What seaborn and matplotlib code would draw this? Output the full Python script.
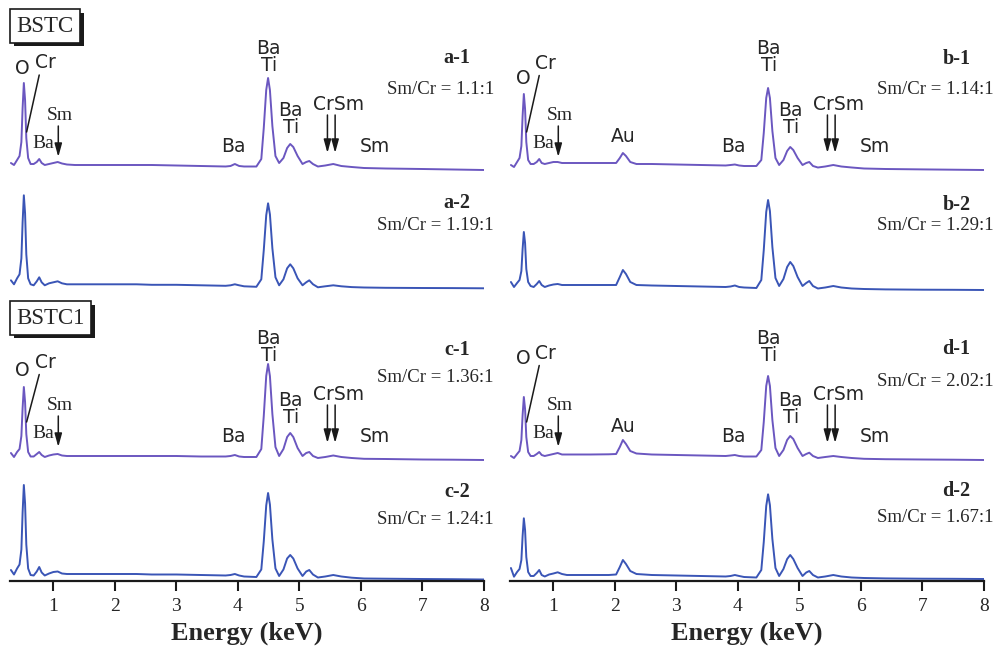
import matplotlib
matplotlib.use('Agg')
import numpy as np
import pandas as pd
import matplotlib.pyplot as plt
import matplotlib.patheffects as pe
import seaborn as sns

# energy grid (keV) shared by all spectra, denser around peaks
ENERGY = [0.31, 0.36, 0.41, 0.45, 0.48, 0.50, 0.52, 0.54, 0.56, 0.59,
          0.63, 0.68, 0.73, 0.77, 0.81, 0.86, 0.93, 1.00, 1.07, 1.14,
          1.22, 1.35, 1.6, 1.9, 2.02, 2.08, 2.13, 2.18, 2.25, 2.35,
          2.6, 3.0, 3.4, 3.8, 3.88, 3.95, 4.02, 4.1, 4.3, 4.38,
          4.42, 4.46, 4.49, 4.52, 4.56, 4.61, 4.67, 4.74, 4.80, 4.85,
          4.90, 4.97, 5.05, 5.11, 5.16, 5.22, 5.30, 5.42, 5.55, 5.68,
          5.85, 6.05, 6.4, 7.0, 7.5, 8.0]

# counts (arb. units)
a1 = [7, 5, 10, 14, 28, 62, 87, 70, 32, 12,
      6, 6, 8, 11, 7, 5, 6, 7, 8, 6.5,
      5.5, 5, 5, 5, 5, 5, 5, 5, 5, 5,
      5, 4.5, 4, 3.5, 4, 6, 4, 3.5, 3.5, 11,
      42, 80, 92, 80, 44, 14, 7, 12, 22, 26,
      23, 14, 6, 8, 9, 6, 3.5, 4.5, 6, 4,
      3, 2, 1.5, 1, 0.5, 0]
a2 = [8, 4, 10, 14, 30, 66, 93, 75, 34, 10,
      4, 3, 7, 11, 6, 3, 5, 6, 7, 5,
      4, 4, 4, 4, 4, 4, 4, 4, 4, 4,
      3.5, 3.5, 3, 2.5, 3, 4, 3, 2, 1.5, 9,
      38, 73, 85, 74, 40, 11, 3, 9, 20, 24,
      20, 10, 3, 6, 8, 4, 1, 2, 3, 2,
      1.2, 0.8, 0.5, 0.3, 0.2, 0]
c1 = [7, 3, 8, 11, 24, 52, 73, 58, 26, 8,
      3.5, 3.5, 6, 8, 5, 3, 4.5, 5.5, 6, 4.5,
      4, 4, 4, 4, 4, 4, 4, 4, 4, 4,
      4, 4, 3.5, 3.5, 4, 5, 3.5, 3, 3, 11,
      44, 84, 96, 84, 46, 13, 4, 11, 23, 27,
      23, 12, 4, 7, 8, 4, 2, 3, 4.5, 3,
      2, 1.2, 1, 0.5, 0.3, 0]
c2 = [9.5, 5, 11, 15, 30, 67, 94.5, 76, 35, 11,
      4.5, 4, 8, 12.5, 7, 4, 6, 7.5, 8, 6,
      5.5, 5.5, 5.5, 5.5, 5.5, 5.5, 5.5, 5.5, 5.5, 5.5,
      5, 5, 4.5, 4, 4.5, 5.5, 4, 3, 2.5, 10,
      38, 74, 86.5, 75, 40, 11, 3.5, 10, 21, 24.5,
      21, 11, 3.5, 8, 9.5, 5, 2, 3, 4.5, 3,
      1.8, 1, 0.8, 0.5, 0.3, 0]
b1 = [5, 3, 8, 12, 24, 54, 76, 61, 28, 10,
      6, 6, 8, 11, 7, 6, 7, 8, 8, 7,
      7, 7, 7, 7, 7, 12, 17, 14, 8, 6,
      6, 5.5, 5, 4.5, 5, 5.5, 4.5, 4, 4, 10,
      37, 72, 82, 72, 39, 12, 5, 10, 19, 23,
      20, 12, 5, 7, 8, 4, 2.5, 3.5, 5, 3.5,
      2.5, 1.5, 1, 0.6, 0.3, 0]
b2 = [8, 3, 7, 10, 19, 41, 58, 47, 21, 8,
      4, 3, 6, 9, 5, 3, 4.5, 5.5, 6, 5,
      5, 5, 5, 5, 5, 13, 20, 16, 8, 5,
      4.5, 4, 3.5, 3, 3.5, 4.5, 3, 2.5, 2, 10,
      40, 78, 90, 79, 43, 12, 4, 11, 23, 28,
      24, 13, 4, 7, 9, 4, 1.5, 2.5, 4, 2.5,
      1.5, 1, 0.6, 0.3, 0.2, 0]
d1 = [4, 2, 6, 9, 20, 45, 63, 51, 23, 8,
      4, 4, 6, 8, 5, 4, 5, 6, 7, 5.5,
      5.5, 5.5, 5.5, 5.7, 6, 13, 20, 16, 9, 6.5,
      5.5, 5, 4.5, 4, 4.5, 5, 4, 3.5, 3.5, 10,
      38, 74, 84, 74, 40, 12, 4, 10, 20, 24,
      21, 12, 4, 6, 7.3, 4, 2, 3, 4, 3,
      2, 1.2, 0.8, 0.5, 0.3, 0]
d2 = [11, 2.3, 7, 10, 19, 43, 60.7, 49, 22, 7,
      3, 3, 6, 9, 4, 2.5, 4.5, 5.5, 6.7, 5,
      4, 4, 4, 4, 4.5, 12, 19, 15, 8, 5,
      4, 3.5, 3, 2.5, 3, 4, 3, 2, 1.5, 9,
      37, 73, 84.7, 74, 40, 11, 3, 10, 20, 24,
      20, 11, 3, 6.5, 8, 4, 1.5, 2.5, 4, 2.5,
      1.5, 1, 0.6, 0.3, 0.2, 0]

PANELS_LEFT = ['a-1', 'a-2', 'c-1', 'c-2']
PANELS_RIGHT = ['b-1', 'b-2', 'd-1', 'd-2']
RATIOS_LEFT = ['1.1:1', '1.19:1', '1.36:1', '1.24:1']
RATIOS_RIGHT = ['1.14:1', '1.29:1', '2.02:1', '1.67:1']
GROUPS = ['BSTC', 'BSTC1']
TICKS = [1, 2, 3, 4, 5, 6, 7, 8]

# layout (vertical stacking offsets, label heights)
OFFSETS_LEFT = [411, 292.7, 121, 1.5]
OFFSETS_RIGHT = [411, 291, 121, 2]
LABEL_Y_LEFT = [523, 378, 231, 89]
LABEL_Y_RIGHT = [522.5, 376, 232, 90]
RATIO_Y_LEFT = [492, 355, 203, 62]
RATIO_Y_RIGHT = [492, 355, 200, 63]

PURPLE = '#6b57c0'
BLUE = '#3a55b6'
SERIF = 'Liberation Serif'
SANS = 'DejaVu Sans'

sns.set_theme(style='white')
plt.rcParams['font.family'] = ['DejaVu Sans']


def build_frame(names, series, offsets):
    rows = []
    for name, vals, off in zip(names, series, offsets):
        for e, v in zip(ENERGY, vals):
            rows.append({'energy': e, 'y': off + v, 'panel': name})
    return pd.DataFrame(rows)


def arrow(ax, x, y0, y1):
    ax.annotate('', xy=(x, y1), xytext=(x, y0),
                arrowprops=dict(arrowstyle='-|>,head_length=0.8,head_width=0.22',
                                color='k', lw=1.1, shrinkA=0, shrinkB=0,
                                mutation_scale=10))


def annotate_upper(ax, dy, o_y, cr_y, o_x, with_au):
    sans = dict(family=SANS, fontsize=13.5, ha='center', va='center')
    serif = dict(family=SERIF, fontsize=14, ha='center', va='center')
    ax.text(o_x, o_y + dy, 'O', **sans)
    ax.text(0.87, cr_y + dy, 'Cr', **sans)
    ax.plot([0.77, 0.565], [cr_y - 12 + dy, 449 + dy], color='k', lw=1.1)
    ax.text(0.83, 437 + dy, 'Ba', **serif)
    ax.text(1.11, 465 + dy, 'Sm', **serif)
    arrow(ax, 1.08, 455 + dy, 424 + dy)
    if with_au:
        ax.text(2.14, 444.5 + dy, 'Au', **sans)
    ax.text(3.93, 434.5 + dy, 'Ba', **sans)
    ax.text(4.50, 524 + dy, 'Ba\nTi', linespacing=0.9, **sans)
    ax.text(4.86, 462 + dy, 'Ba\nTi', linespacing=0.9, **sans)
    ax.text(5.63, 476 + dy, 'CrSm', **sans)
    arrow(ax, 5.455, 466 + dy, 428 + dy)
    arrow(ax, 5.58, 466 + dy, 428 + dy)
    ax.text(6.22, 434.5 + dy, 'Sm', **sans)


def draw_column(ax, names, series, offsets, ratios, label_y, ratio_y, upper, with_au):
    df = build_frame(names, series, offsets)
    palette = {n: (PURPLE if n.endswith('1') else BLUE) for n in names}
    sns.lineplot(data=df, x='energy', y='y', hue='panel', palette=palette,
                 estimator=None, sort=False, legend=False, lw=1.4, ax=ax)
    ax.set_xlim(0.295, 8.0)
    ax.set_ylim(0, 581)
    for s in ['left', 'top', 'right']:
        ax.spines[s].set_visible(False)
    ax.spines['bottom'].set_linewidth(1.6)
    ax.spines['bottom'].set_color('k')
    ax.set_yticks([])
    ax.set_xticks(TICKS)
    ax.set_xticklabels([str(t) for t in TICKS], family=SERIF, fontsize=14)
    ax.tick_params(axis='x', direction='out', length=7, width=1.5, color='k', pad=5, bottom=True)
    ax.set_xlabel('Energy (keV)', family=SERIF, fontsize=19, fontweight='bold', labelpad=5)
    ax.set_ylabel('')
    for name, ratio, ly, ry in zip(names, ratios, label_y, ratio_y):
        ax.text(7.78, ly, name, family=SERIF, fontsize=14.5, fontweight='bold',
                ha='right', va='center')
        ax.text(8.16, ry, 'Sm/Cr = ' + ratio, family=SERIF, fontsize=13.5,
                ha='right', va='center')
    for dy, (o_x, o_y, cr_y) in zip([0, -290], upper):
        annotate_upper(ax, dy, o_y, cr_y, o_x, with_au)


fig = plt.figure(figsize=(9.93, 6.56), dpi=100)
ax_left = fig.add_axes([10 / 993, 75 / 656, 474 / 993, 581 / 656])
ax_right = fig.add_axes([510 / 993, 75 / 656, 474 / 993, 581 / 656])

draw_column(ax_left, PANELS_LEFT, [a1, a2, c1, c2], OFFSETS_LEFT, RATIOS_LEFT,
            LABEL_Y_LEFT, RATIO_Y_LEFT, [(0.50, 512.5, 518), (0.50, 501, 508.5)],
            with_au=False)
draw_column(ax_right, PANELS_RIGHT, [b1, b2, d1, d2], OFFSETS_RIGHT, RATIOS_RIGHT,
            LABEL_Y_RIGHT, RATIO_Y_RIGHT, [(0.507, 502, 517.5), (0.507, 512, 517.5)],
            with_au=True)

# sample group boxes with drop shadow
for name, ypx in zip(GROUPS, [26, 318]):
    t = fig.text(16.5 / 993, 1 - ypx / 656, name, family=SERIF, fontsize=16.5,
                 ha='left', va='center',
                 bbox=dict(boxstyle='square,pad=0.28', fc='white', ec='k', lw=1.2))
    t.get_bbox_patch().set_path_effects([
        pe.SimplePatchShadow(offset=(2.5, -2.5), shadow_rgbFace='k', alpha=1),
        pe.Normal()])

fig.savefig('out.png', dpi=100)
